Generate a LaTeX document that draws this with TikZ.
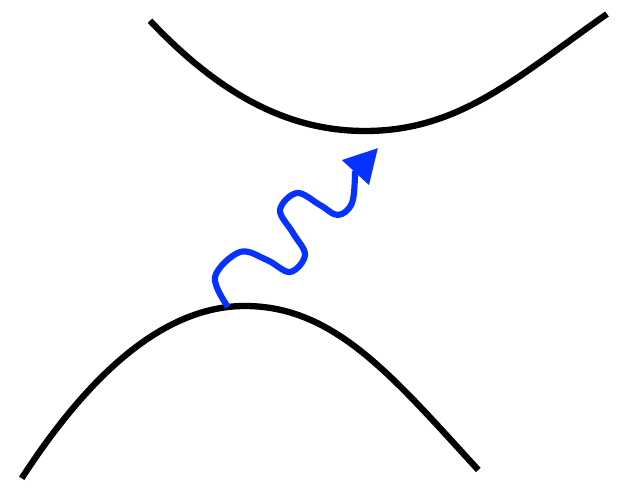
\documentclass[tikz,border=0pt]{standalone}
\usepackage{xcolor}
\usepackage{tikz}
\usetikzlibrary{arrows.meta}
\definecolor{photonblue}{RGB}{5,50,255}

\begin{document}
\begin{tikzpicture}[x=0.02cm, y=0.02cm,
		band/.style={line width=3.6pt, black},
		photon/.style={line width=3.5pt, photonblue, -{Triangle[length=19pt, width=20pt]}}]
	\useasboundingbox (0,0) rectangle (630,493);
	% conduction band
	\coordinate (cbmin) at (365,362);
	\draw[band] (150,472.3) .. controls (224,393.9) and (293,362) .. (cbmin)
		.. controls (460,362) and (517,416) .. (607,479);
	% valence band
	\coordinate (vbmax) at (245,187);
	\draw[band] (21.7,14.7) .. controls (96.1,129.6) and (170.6,187) .. (vbmax)
		.. controls (335,187) and (393.3,115.65) .. (478.3,23);
	\coordinate (vbtop) at (228,186);
	\coordinate (cbtip) at (378,345);
	% absorbed photon
	\draw[photon] plot[smooth, tension=0.6] coordinates {(vbtop) (215,216) (240,241) (267,233) (290,221) (305,238) (293,260) (280,283) (297,300) (320,288) (338,278) (352,290) (355,320)} -- (cbtip);
\end{tikzpicture}
\end{document}
